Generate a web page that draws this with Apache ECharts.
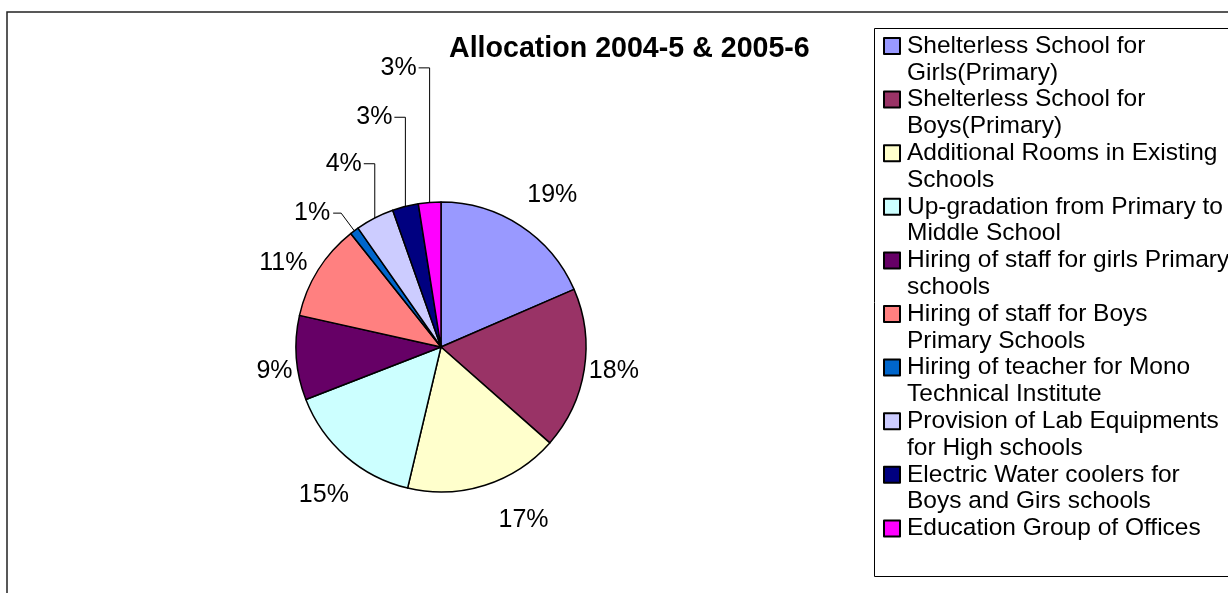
<!DOCTYPE html>
<html>
<head>
<meta charset="utf-8">
<script src="https://cdn.jsdelivr.net/npm/echarts@6/dist/echarts.min.js"></script>
<style>
  html, body { margin: 0; padding: 0; background: #fff; }
  #chart { width: 1228px; height: 593px; }
</style>
</head>
<body>
<div id="chart"></div>
<script>
const chartTitle = 'Allocation 2004-5 & 2005-6';
const categories = [
  'Shelterless School for\nGirls(Primary)',
  'Shelterless School for\nBoys(Primary)',
  'Additional Rooms in Existing\nSchools',
  'Up-gradation from Primary to\nMiddle School',
  'Hiring of staff for girls Primary\nschools',
  'Hiring of staff for Boys\nPrimary Schools',
  'Hiring of teacher for Mono\nTechnical Institute',
  'Provision of Lab Equipments\nfor High schools',
  'Electric Water coolers for\nBoys and Girs schools',
  'Education Group of Offices'
];
// share of the allocation, in percent
const shares = [18.5, 18.0, 17.2, 15.4, 9.4, 10.8, 1.0, 4.3, 2.9, 2.5];
const colors = ['#9999FF', '#993366', '#FFFFCC', '#CCFFFF', '#660066',
                '#FF8080', '#0066CC', '#CCCCFF', '#000080', '#FF00FF'];

// how far each percent label sits out from the rim
const labelOffset = [45, 27, 45, 41, 22, 34, 22, 61, 92, 135];
const withLine = [false, false, false, false, false, false, true, true, true, true];
// small nudges for the labels without a leader line (excel pie is slightly oval)
const labelNudge = [[4, 7], [0, -3], [22, -8], [8, 8], [3, 12], [-3, 11]];
// these leader lines go straight up, then across to the label
const elbowLines = [7, 8, 9];

const font = '"Liberation Sans", Arial, sans-serif';
const lineH = 26.8;
// 16px square at the top of a taller box, so it lines up with the first text line
const legendIcon = 'path://M0,0L16,0L16,16L0,16Z M18,' + (16 + lineH);

const chart = echarts.init(document.getElementById('chart'));

const option = {
  animation: false,
  title: {
    text: chartTitle,
    left: 444,
    top: 30,
    textStyle: { fontSize: 28.6, fontWeight: 'bold', color: '#000', fontFamily: font }
  },
  graphic: [
    {
      type: 'rect', silent: true, z: -1,
      shape: { x: 7, y: 12, width: 1400, height: 800 },
      style: { fill: 'none', stroke: '#222', lineWidth: 1.5 }
    },
    {
      type: 'rect', silent: true, z: -1,
      shape: { x: 874.5, y: 28.5, width: 500, height: 548 },
      style: { fill: 'none', stroke: '#000', lineWidth: 1 }
    }
  ],
  legend: {
    orient: 'vertical',
    left: 883,
    top: 32.6,
    padding: 0,
    itemGap: 0,
    itemWidth: 18,
    itemHeight: 16 + lineH,
    icon: legendIcon,
    selectedMode: false,
    formatter: name => name.indexOf('\n') < 0 ? name + '\n ' : name,
    itemStyle: { borderColor: '#000', borderWidth: 2 },
    textStyle: {
      fontSize: 24.5,
      lineHeight: lineH,
      color: '#000',
      fontFamily: font
    }
  },
  series: [{
    type: 'pie',
    center: [441, 347],
    radius: 145,
    startAngle: 90,
    clockwise: true,
    avoidLabelOverlap: false,
    itemStyle: { borderColor: '#000', borderWidth: 1.5 },
    emphasis: { disabled: true },
    label: {
      position: 'outside',
      formatter: p => Math.round(p.percent) + '%',
      fontSize: 25,
      color: '#000',
      fontFamily: font,
      distanceToLabelLine: 3
    },
    labelLine: { lineStyle: { color: '#000', width: 1 } },
    labelLayout: params => {
      const i = params.dataIndex;
      if (elbowLines.indexOf(i) >= 0 && params.labelLinePoints) {
        const p0 = params.labelLinePoints[0];
        const r = params.labelRect;
        const x = p0[0] - 13;
        const y = r.y + r.height / 2;
        return {
          x: x, y: y, align: 'right', verticalAlign: 'middle',
          labelLinePoints: [p0, [p0[0], y], [x + 2, y]]
        };
      }
      if (!withLine[i]) {
        return { align: 'center', dx: labelNudge[i][0], dy: labelNudge[i][1] };
      }
      return {};
    },
    data: categories.map((name, i) => ({
      name: name,
      value: shares[i],
      itemStyle: { color: colors[i] },
      labelLine: {
        show: withLine[i],
        length: labelOffset[i],
        length2: withLine[i] ? 8 : 0
      }
    }))
  }]
};

chart.setOption(option);
</script>
</body>
</html>
